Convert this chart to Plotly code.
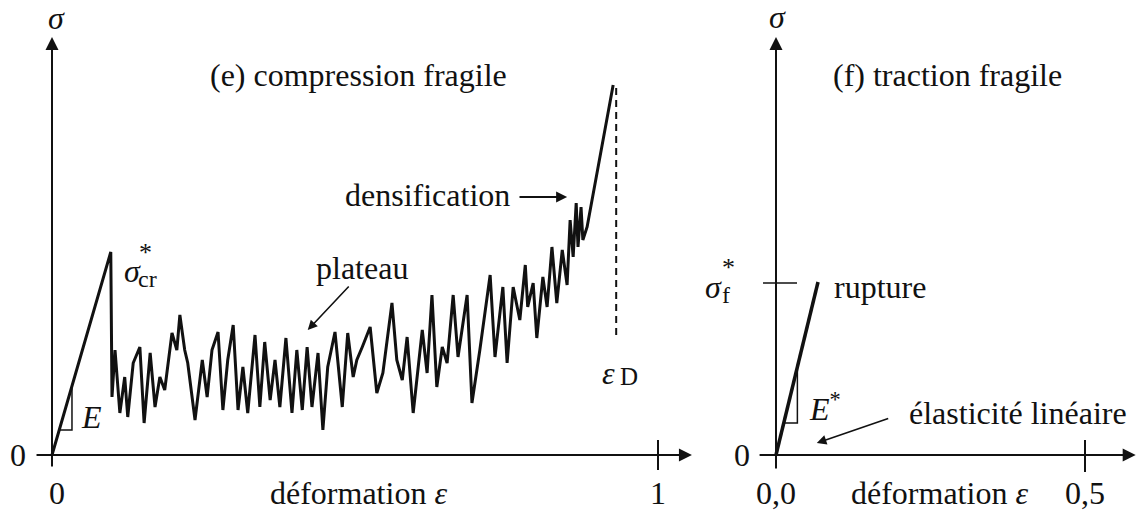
import plotly.graph_objects as go

# ---------------- data ----------------
# (e) compression fragile : strain (0..1) and stress (arbitrary units)
eps_comp = [0, 0.097, 0.099, 0.104, 0.112, 0.120, 0.125, 0.134, 0.145, 0.152, 0.162,
            0.170, 0.178, 0.186, 0.198, 0.206, 0.211, 0.219, 0.224, 0.236, 0.248,
            0.256, 0.264, 0.274, 0.282, 0.290, 0.299, 0.307, 0.315, 0.323, 0.335,
            0.343, 0.351, 0.360, 0.368, 0.376, 0.386, 0.396, 0.404, 0.413, 0.421,
            0.429, 0.439, 0.447, 0.455, 0.467, 0.479, 0.488, 0.497, 0.503, 0.512,
            0.525, 0.536, 0.546, 0.561, 0.569, 0.578, 0.586, 0.596, 0.611, 0.619,
            0.627, 0.635, 0.644, 0.652, 0.662, 0.670, 0.685, 0.693, 0.706, 0.723,
            0.731, 0.744, 0.751, 0.761, 0.772, 0.781, 0.785, 0.794, 0.800, 0.810,
            0.817, 0.825, 0.833, 0.842, 0.850, 0.855, 0.860, 0.865, 0.868, 0.873,
            0.876, 0.883, 0.926]
sig_comp = [0, 203, 58, 105, 42, 78, 38, 92, 108, 32, 102,
            48, 78, 65, 122, 105, 140, 105, 92, 35, 95,
            58, 105, 123, 45, 95, 130, 45, 88, 42, 120,
            48, 113, 55, 95, 48, 117, 42, 105, 45, 108,
            48, 102, 25, 88, 123, 48, 122, 78, 95, 108,
            128, 62, 82, 152, 95, 75, 118, 42, 125, 82,
            160, 68, 108, 92, 160, 98, 160, 52, 105, 180,
            98, 168, 92, 168, 135, 190, 148, 172, 117, 178,
            148, 208, 152, 205, 170, 235, 198, 252, 208, 248,
            215, 228, 370]
eps_D = 0.931
eps_D_sigma = [120, 372]

# (f) traction fragile
eps_trac = [0.0, 0.068]
sig_trac = [0, 173]
sigma_f = 172

# tick labels
left_xticks = [0, 1]
left_xticktext = ["0", "1"]
right_xticks = [0.0, 0.5]
right_xticktext = ["0,0", "0,5"]

FONT = "Liberation Serif"
FS = 32
BLACK = "#111111"

fig = go.Figure()

fig.add_trace(go.Scatter(x=eps_comp, y=sig_comp, mode="lines",
                         line=dict(color=BLACK, width=3), xaxis="x", yaxis="y",
                         hoverinfo="skip", showlegend=False))
fig.add_trace(go.Scatter(x=[eps_D, eps_D], y=eps_D_sigma, mode="lines",
                         line=dict(color=BLACK, width=2, dash="7px,5px"),
                         xaxis="x", yaxis="y", showlegend=False, hoverinfo="skip"))
fig.add_trace(go.Scatter(x=eps_trac, y=sig_trac, mode="lines",
                         line=dict(color=BLACK, width=3.5), xaxis="x2", yaxis="y",
                         hoverinfo="skip", showlegend=False))

# slope triangles
slope_c = sig_comp[1] / eps_comp[1]
tri_c_s0, tri_c_s1 = 25, 69
fig.add_trace(go.Scatter(x=[tri_c_s0 / slope_c, tri_c_s1 / slope_c, tri_c_s1 / slope_c],
                         y=[tri_c_s0, tri_c_s0, tri_c_s1], mode="lines",
                         line=dict(color=BLACK, width=1.5), xaxis="x", yaxis="y",
                         showlegend=False, hoverinfo="skip"))
slope_t = sig_trac[1] / eps_trac[1]
tri_t_s0, tri_t_s1 = 32, 88
fig.add_trace(go.Scatter(x=[tri_t_s0 / slope_t, tri_t_s1 / slope_t, tri_t_s1 / slope_t],
                         y=[tri_t_s0, tri_t_s0, tri_t_s1], mode="lines",
                         line=dict(color=BLACK, width=1.5), xaxis="x2", yaxis="y",
                         showlegend=False, hoverinfo="skip"))

shapes = []
# tick marks
shapes.append(dict(type="line", xref="x", yref="y", x0=1, x1=1, y0=-15, y1=15,
                   line=dict(color=BLACK, width=2)))
shapes.append(dict(type="line", xref="x2", yref="y", x0=0.5, x1=0.5, y0=-17, y1=15,
                   line=dict(color=BLACK, width=2)))
shapes.append(dict(type="line", xref="x2", yref="y", x0=-0.021, x1=0.034,
                   y0=sigma_f, y1=sigma_f, line=dict(color=BLACK, width=1.5)))

ann = []


def arrow(xref, x0, y0, x1, y1, w=2, size=1.2, head=2):
    ann.append(dict(xref=xref, yref="y", axref=xref, ayref="y", x=x1, y=y1, ax=x0, ay=y0,
                    text="", showarrow=True, arrowhead=head, arrowsize=size,
                    arrowwidth=w, arrowcolor=BLACK))


def text(xref, x, y, t, size=FS, xanchor="center", yanchor="middle"):
    ann.append(dict(xref=xref, yref="y", x=x, y=y, text=t, showarrow=False,
                    font=dict(family=FONT, size=size, color=BLACK),
                    xanchor=xanchor, yanchor=yanchor))


# axes (left)
arrow("x", 0, -13, 0, 418, w=2, size=1.3)
arrow("x", -0.028, 0, 1.056, 0, w=2, size=1.3)
# axes (right)
arrow("x2", 0, -15, 0, 418, w=2, size=1.3)
arrow("x2", -0.029, 0, 0.582, 0, w=2, size=1.3)

# annotation arrows
arrow("x", 0.769, 258, 0.850, 258, w=2, size=1.1)
arrow("x", 0.492, 170, 0.422, 125, w=1.6, size=1.2)
arrow("x2", 0.184, 37, 0.066, 12, w=1.6, size=1.2)

# texts left
text("x", 0.008, 437, "<i>σ</i>")
text("x", 0.505, 380, "(e) compression fragile")
text("x", 0.619, 260, "densification")
text("x", 0.512, 187, "plateau")
text("x", 0.115, 184, "<i>σ</i>", xanchor="left")
text("x", 0.141, 203, "*", size=26, xanchor="left")
text("x", 0.139, 176, "cr", size=24, xanchor="left")
text("x", 0.044, 38, "<i>E</i>", xanchor="left")
text("x", 0.905, 82, "<i>ε</i>", xanchor="left")
text("x", 0.934, 79, "D", size=25, xanchor="left")
text("x", -0.040, 0, "0", xanchor="right")
for v, t in zip(left_xticks, left_xticktext):
    text("x", v + (0.008 if v == 0 else 0), -38, t)
text("x", 0.505, -38, "déformation <i>ε</i>")

# texts right
text("x2", 0.002, 438, "<i>σ</i>")
text("x2", 0.278, 380, "(f) traction fragile")
text("x2", 0.168, 168, "rupture")
text("x2", -0.118, 168, "<i>σ</i>", xanchor="left")
text("x2", -0.090, 188, "*", size=26, xanchor="left")
text("x2", -0.090, 160, "f", size=24, xanchor="left")
text("x2", -0.039, 0, "0", xanchor="right")
for v, t in zip(right_xticks, right_xticktext):
    text("x2", v, -38, t)
text("x2", 0.265, -38, "déformation <i>ε</i>")
text("x2", 0.050, 48, "<i>E</i><sup>*</sup>", xanchor="left")
text("x2", 0.392, 42, "élasticité linéaire")

W, H = 1138, 516
split = 700 / W
fig.update_layout(
    width=W, height=H, margin=dict(l=0, r=0, t=0, b=0),
    paper_bgcolor="white", plot_bgcolor="white",
    xaxis=dict(domain=[0, split], range=[-52 / 606, 648 / 606], visible=False, anchor="y"),
    xaxis2=dict(domain=[split, 1], range=[-76 / 618, 362 / 618], visible=False, anchor="y"),
    yaxis=dict(domain=[0, 1], range=[-61, 455], visible=False),
    shapes=shapes, annotations=ann, showlegend=False,
)
fig.write_html("out.html", config={"displayModeBar": False},
               post_script="document.body.style.margin='0px';document.body.style.overflow='hidden';")
